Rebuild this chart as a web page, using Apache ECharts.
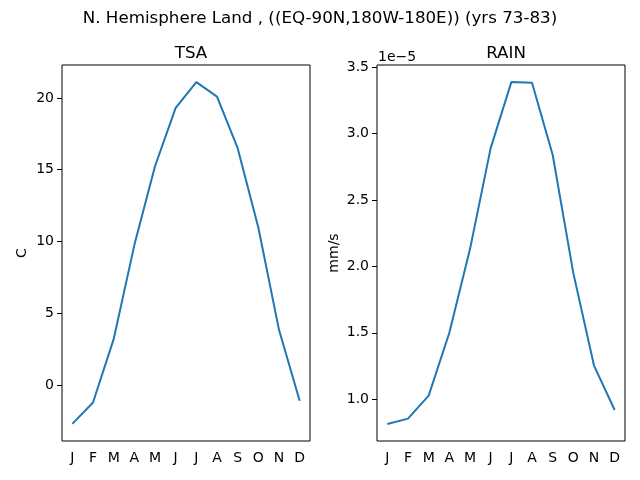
<!DOCTYPE html>
<html>
<head>
<meta charset="utf-8">
<script src="https://cdn.jsdelivr.net/npm/echarts@6/dist/echarts.min.js"></script>
<style>
  html, body { margin: 0; padding: 0; background: #fff; }
  #chart { width: 640px; height: 480px; }
</style>
</head>
<body>
<div id="chart"></div>
<script>
// monthly climatology
const months = ["J", "F", "M", "A", "M", "J", "J", "A", "S", "O", "N", "D"];
const tsa = [-2.70, -1.21, 3.2, 9.75, 15.24, 19.3, 21.1, 20.09, 16.5, 10.98, 3.85, -1.09];
// rain in mm/s
const rain = [0.814e-5, 0.854e-5, 1.027e-5, 1.50e-5, 2.13e-5, 2.89e-5, 3.387e-5, 3.382e-5, 2.84e-5, 1.949e-5, 1.253e-5, 0.919e-5];

// tick positions
const tsaTicks = [0, 5, 10, 15, 20];
const rainTicks = [1.0e-5, 1.5e-5, 2.0e-5, 2.5e-5, 3.0e-5, 3.5e-5];

const font = "DejaVu Sans";
const blue = "#1f77b4";

function padRange(arr) {
  const lo = Math.min(...arr), hi = Math.max(...arr);
  const m = (hi - lo) * 0.05;
  return [lo - m, hi + m];
}
const tsaRange = padRange(tsa);
const rainRange = padRange(rain);

const xAxisBase = {
  type: "category",
  data: months,
  boundaryGap: true,
  axisLine: { show: false },
  axisTick: { alignWithLabel: true, length: 5, lineStyle: { color: "#000" } },
  axisLabel: { color: "#000", fontFamily: font, fontSize: 14, margin: 10 },
  splitLine: { show: false },
};

const chart = echarts.init(document.getElementById("chart"));

const option = {
  animation: false,
  title: [
    {
      text: "N. Hemisphere Land , ((EQ-90N,180W-180E)) (yrs 73-83)",
      left: "center", top: 5,
      textStyle: { fontFamily: font, fontSize: 16.7, fontWeight: "normal", color: "#000" },
    },
    {
      text: "TSA", left: 186, top: 40, textAlign: "center",
      textStyle: { fontFamily: font, fontSize: 16.7, fontWeight: "normal", color: "#000" },
    },
    {
      text: "RAIN", left: 501, top: 40, textAlign: "center",
      textStyle: { fontFamily: font, fontSize: 16.7, fontWeight: "normal", color: "#000" },
    },
    {
      text: "1e\u22125", left: 373, top: 45,
      textStyle: { fontFamily: font, fontSize: 14, fontWeight: "normal", color: "#000" },
    },
  ],
  grid: [
    { left: 62, top: 65, width: 248, height: 376, show: true, borderColor: "#000", borderWidth: 1, outerBoundsMode: "none" },
    { left: 377, top: 65, width: 248, height: 376, show: true, borderColor: "#000", borderWidth: 1, outerBoundsMode: "none" },
  ],
  xAxis: [
    Object.assign({ gridIndex: 0 }, xAxisBase),
    Object.assign({ gridIndex: 1 }, xAxisBase),
  ],
  yAxis: [
    {
      gridIndex: 0, type: "value",
      min: tsaRange[0], max: tsaRange[1],
      name: "C", nameLocation: "middle", nameGap: 33, nameRotate: 90,
      nameTextStyle: { fontFamily: font, fontSize: 14, color: "#000" },
      axisLine: { show: false },
      axisTick: { show: true, length: 5, lineStyle: { color: "#000" }, customValues: tsaTicks },
      axisLabel: { color: "#000", fontFamily: font, fontSize: 14, margin: 8, customValues: tsaTicks },
      splitLine: { show: false },
    },
    {
      gridIndex: 1, type: "value",
      min: rainRange[0], max: rainRange[1],
      name: "mm/s", nameLocation: "middle", nameGap: 36, nameRotate: 90,
      nameTextStyle: { fontFamily: font, fontSize: 14, color: "#000" },
      axisLine: { show: false },
      axisTick: { show: true, length: 5, lineStyle: { color: "#000" }, customValues: rainTicks },
      axisLabel: {
        color: "#000", fontFamily: font, fontSize: 14, margin: 8,
        customValues: rainTicks,
        formatter: (v) => (v / 1e-5).toFixed(1),
      },
      splitLine: { show: false },
    },
  ],
  series: [
    {
      type: "line", xAxisIndex: 0, yAxisIndex: 0, data: tsa,
      showSymbol: false, lineStyle: { color: blue, width: 2 },
    },
    {
      type: "line", xAxisIndex: 1, yAxisIndex: 1, data: rain,
      showSymbol: false, lineStyle: { color: blue, width: 2 },
    },
  ],
};

chart.setOption(option);
</script>
</body>
</html>
